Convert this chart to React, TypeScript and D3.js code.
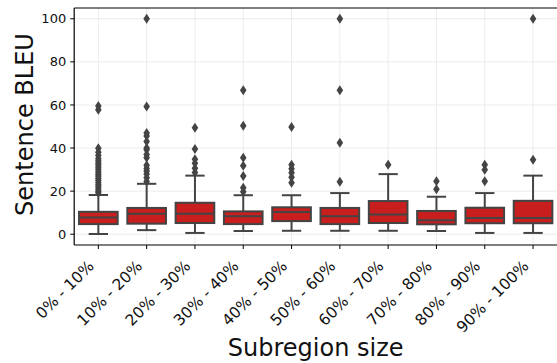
import React from "react";
import * as d3 from "d3";

const categories = ["0% - 10%", "10% - 20%", "20% - 30%", "30% - 40%", "40% - 50%", "50% - 60%", "60% - 70%", "70% - 80%", "80% - 90%", "90% - 100%"];
const whiskerLow = [0.1, 1.9, 0.6, 1.5, 1.6, 1.6, 1.6, 1.5, 0.6, 0.6];
const q1 = [4.7, 4.9, 5.2, 4.7, 6.1, 4.7, 5.2, 4.6, 5.1, 5.1];
const medians = [7.8, 9.5, 9.5, 8.4, 10.3, 8.4, 9.1, 6.5, 7.5, 7.5];
const q3 = [10.4, 12.2, 14.6, 10.6, 12.5, 12.2, 15.4, 10.8, 12.3, 15.5];
const whiskerHigh = [18.2, 23.4, 27.2, 18.1, 18.1, 19.1, 27.9, 17.4, 19.1, 27.2];
const outliers = [
  [59.5, 57.8, 39.9, 38, 36.5, 35, 34, 33, 32, 31, 30, 29, 28, 27, 26, 25, 24, 23, 22, 21, 20, 19.2],
  [100, 59.3, 47, 45.6, 43, 40, 39.2, 37, 35.5, 32, 30.5, 29.4, 28, 26.2, 24.5],
  [49.4, 39.5, 34.8, 32.9, 30.6, 28.7],
  [66.8, 50.4, 35.5, 31.8, 27, 21.6, 19.7],
  [49.8, 32.3, 30.4, 28.5, 26.5, 23.9],
  [100, 66.8, 42.5, 24.3],
  [32.3],
  [24.6, 20.9],
  [32.3, 29.9, 24.6],
  [100, 34.6],
];
const yTicks = [0, 20, 40, 60, 80, 100];

const W = 557;
const H = 363;
const left = 74.2;
const top = 8;
const bottom = 245;
const right = left + 483;

const boxFill = "#c81e1e";
const lineColor = "#444444";

export default function App() {
  const x = d3.scaleBand<string>().domain(categories).range([left, right]).padding(0);
  const y = d3.scaleLinear().domain([-5, 105]).range([bottom, top]);
  const bw = x.bandwidth() * 0.8;
  const diamond = (cx: number, cy: number) =>
    `M${cx},${cy - 5}L${cx + 3.3},${cy}L${cx},${cy + 5}L${cx - 3.3},${cy}Z`;

  return (
    <svg width={W} height={H} style={{ position: "absolute", left: 0, top: 0 }} fontFamily="DejaVu Sans, sans-serif">
      <rect width={W} height={H} fill="white" />
      {/* grid */}
      {categories.map((c) => (
        <line key={"gx" + c} x1={x(c)! + x.bandwidth() / 2} x2={x(c)! + x.bandwidth() / 2} y1={top} y2={bottom} stroke="#ebebeb" strokeWidth={1} />
      ))}
      {yTicks.map((t) => (
        <line key={"gy" + t} x1={left} x2={right} y1={y(t)} y2={y(t)} stroke="#ebebeb" strokeWidth={1} />
      ))}
      {/* boxes */}
      {categories.map((c, i) => {
        const cx = x(c)! + x.bandwidth() / 2;
        return (
          <g key={"b" + c} stroke={lineColor} strokeWidth={2}>
            <line x1={cx} x2={cx} y1={y(whiskerLow[i])} y2={y(q1[i])} />
            <line x1={cx} x2={cx} y1={y(q3[i])} y2={y(whiskerHigh[i])} />
            <line x1={cx - bw / 4} x2={cx + bw / 4} y1={y(whiskerLow[i])} y2={y(whiskerLow[i])} />
            <line x1={cx - bw / 4} x2={cx + bw / 4} y1={y(whiskerHigh[i])} y2={y(whiskerHigh[i])} />
            <rect x={cx - bw / 2} y={y(q3[i])} width={bw} height={y(q1[i]) - y(q3[i])} fill={boxFill} />
            <line x1={cx - bw / 2} x2={cx + bw / 2} y1={y(medians[i])} y2={y(medians[i])} />
            {outliers[i].map((v, j) => (
              <path key={j} d={diamond(cx, y(v))} fill={lineColor} stroke="none" />
            ))}
          </g>
        );
      })}
      {/* spines */}
      <line x1={left} x2={left} y1={top} y2={bottom} stroke="black" strokeWidth={1.2} />
      <line x1={left} x2={right} y1={top} y2={top} stroke="black" strokeWidth={1.2} />
      <line x1={left} x2={right} y1={bottom} y2={bottom} stroke="black" strokeWidth={1.2} />
      {/* y ticks */}
      {yTicks.map((t) => (
        <g key={"yt" + t}>
          <line x1={left - 4} x2={left} y1={y(t)} y2={y(t)} stroke="black" strokeWidth={1} />
          <text x={left - 8} y={y(t)} dy="0.35em" textAnchor="end" fontSize={13} fill="#111">{t}</text>
        </g>
      ))}
      {/* x ticks */}
      {categories.map((c) => {
        const cx = x(c)! + x.bandwidth() / 2;
        return (
          <g key={"xt" + c}>
            <line x1={cx} x2={cx} y1={bottom} y2={bottom + 4} stroke="black" strokeWidth={1} />
            <text transform={`translate(${cx - 3.5},${bottom + 22}) rotate(-45)`} textAnchor="end" fontSize={15.5} fill="#111">{c}</text>
          </g>
        );
      })}
      <text transform={`translate(33,124.5) rotate(-90)`} textAnchor="middle" fontSize={24} fill="#111">Sentence BLEU</text>
      <text x={315.7} y={356} textAnchor="middle" fontSize={24} fill="#111">Subregion size</text>
    </svg>
  );
}
